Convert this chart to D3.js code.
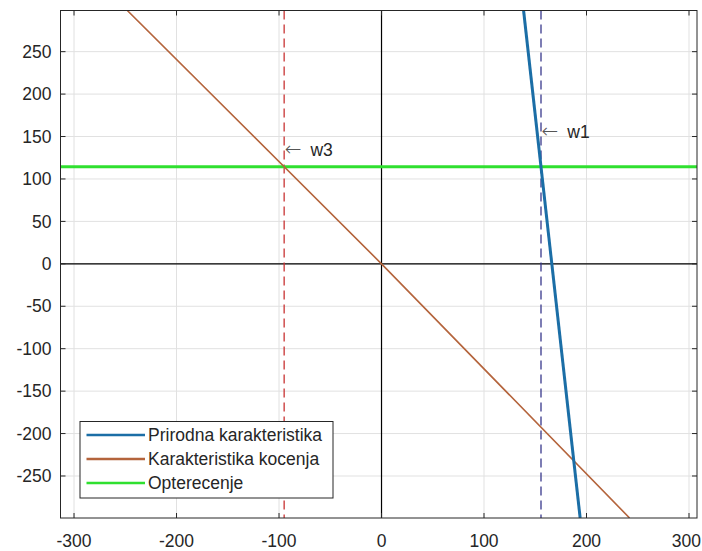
<!DOCTYPE html>
<html>
<head>
<meta charset="utf-8">
<script src="https://cdn.jsdelivr.net/npm/d3@7"></script>
<style>
  body { margin: 0; background: #fff; }
  text { font-family: "Liberation Sans", Arial, sans-serif; fill: #262626; }
</style>
</head>
<body>
<div id="chart"></div>
<script>
// tick values
const xTicks = [-300, -200, -100, 0, 100, 200, 300];
const yTicks = [-250, -200, -150, -100, -50, 0, 50, 100, 150, 200, 250];

// series
const prirodna = [[138.6, 298.5], [193.8, -299.5]];
const kocenja = [[-248, 298.5], [0, 0], [242, -299.5]];
const opterecenje = 114.5;
const w1 = 155.6;
const w3 = -95;

const legendNames = ["Prirodna karakteristika", "Karakteristika kocenja", "Opterecenje"];
const legendColors = ["#1b6ea6", "#b4643c", "#2fe02f"];

const width = 702, height = 551;
const plot = { left: 60.5, top: 10.5, right: 697, bottom: 518 };

const svg = d3.select("#chart").append("svg")
  .attr("width", width)
  .attr("height", height);

const x = d3.scaleLinear().domain([-313.2, 307.8]).range([plot.left, plot.right]);
const y = d3.scaleLinear().domain([-299.5, 298.5]).range([plot.bottom, plot.top]);

svg.append("defs").append("clipPath").attr("id", "clip")
  .append("rect")
  .attr("x", plot.left).attr("y", plot.top)
  .attr("width", plot.right - plot.left)
  .attr("height", plot.bottom - plot.top);

// grid
const grid = svg.append("g").attr("stroke", "#e1e1e1").attr("stroke-width", 1);
grid.selectAll(".gx").data(xTicks).join("line")
  .attr("x1", d => x(d)).attr("x2", d => x(d))
  .attr("y1", plot.top).attr("y2", plot.bottom);
grid.selectAll(".gy").data(yTicks).join("line")
  .attr("y1", d => y(d)).attr("y2", d => y(d))
  .attr("x1", plot.left).attr("x2", plot.right);

const g = svg.append("g").attr("clip-path", "url(#clip)");
const line = d3.line().x(d => x(d[0])).y(d => y(d[1]));

// black zero lines
g.append("line")
  .attr("x1", x(0)).attr("x2", x(0))
  .attr("y1", plot.top).attr("y2", plot.bottom)
  .attr("stroke", "#000").attr("stroke-width", 1.2);
g.append("line")
  .attr("y1", y(0)).attr("y2", y(0))
  .attr("x1", plot.left).attr("x2", plot.right)
  .attr("stroke", "#000").attr("stroke-width", 1.2);

// dashed speed markers
g.append("line")
  .attr("x1", x(w3)).attr("x2", x(w3))
  .attr("y1", plot.top).attr("y2", plot.bottom)
  .attr("stroke", "#c83232").attr("stroke-width", 1.3)
  .attr("stroke-dasharray", "9,5");
g.append("line")
  .attr("x1", x(w1)).attr("x2", x(w1))
  .attr("y1", plot.top).attr("y2", plot.bottom)
  .attr("stroke", "#38388c").attr("stroke-width", 1.3)
  .attr("stroke-dasharray", "9,5");

// load line
g.append("line")
  .attr("y1", y(opterecenje)).attr("y2", y(opterecenje))
  .attr("x1", plot.left).attr("x2", plot.right)
  .attr("stroke", legendColors[2]).attr("stroke-width", 3);

// characteristics
g.append("path").datum(kocenja)
  .attr("d", line).attr("fill", "none")
  .attr("stroke", legendColors[1]).attr("stroke-width", 1.6);
g.append("path").datum(prirodna)
  .attr("d", line).attr("fill", "none")
  .attr("stroke", legendColors[0]).attr("stroke-width", 3);

// annotations (\leftarrow w)
function note(xv, yv, label) {
  const t = svg.append("text")
    .attr("x", x(xv) + 0.5).attr("y", y(yv))
    .attr("dy", "0.35em").attr("font-size", 17.5);
  t.append("tspan").attr("font-family", "DejaVu Sans").attr("font-size", 20)
    .attr("font-weight", 300).attr("fill", "#555").text("\u2190");
  t.append("tspan").attr("dx", 9).text(label);
}
note(w3, 134, "w3");
note(w1, 156, "w1");

// box and ticks
const axisColor = "#262626";
svg.append("rect")
  .attr("x", plot.left).attr("y", plot.top)
  .attr("width", plot.right - plot.left)
  .attr("height", plot.bottom - plot.top)
  .attr("fill", "none").attr("stroke", axisColor).attr("stroke-width", 1);

const tl = 5;
const ticks = svg.append("g").attr("stroke", axisColor).attr("stroke-width", 1);
xTicks.forEach(d => {
  ticks.append("line").attr("x1", x(d)).attr("x2", x(d)).attr("y1", plot.bottom).attr("y2", plot.bottom - tl);
  ticks.append("line").attr("x1", x(d)).attr("x2", x(d)).attr("y1", plot.top).attr("y2", plot.top + tl);
});
yTicks.forEach(d => {
  ticks.append("line").attr("y1", y(d)).attr("y2", y(d)).attr("x1", plot.left).attr("x2", plot.left + tl);
  ticks.append("line").attr("y1", y(d)).attr("y2", y(d)).attr("x1", plot.right).attr("x2", plot.right - tl);
});

svg.append("g").selectAll("text").data(xTicks).join("text")
  .attr("x", d => x(d)).attr("y", 547)
  .attr("text-anchor", "middle").attr("font-size", 17.5)
  .text(d => d)
  .each(function () {
    // keep the last label inside the window
    const b = this.getBBox();
    if (b.x + b.width > width - 1) {
      d3.select(this).attr("text-anchor", "end").attr("x", width - 1);
    }
  });
svg.append("g").selectAll("text").data(yTicks).join("text")
  .attr("x", plot.left - 9).attr("y", d => y(d))
  .attr("dy", "0.35em")
  .attr("text-anchor", "end").attr("font-size", 17.5)
  .text(d => d);

// legend
const legend = svg.append("g");
legend.append("rect")
  .attr("x", 80).attr("y", 421.5)
  .attr("width", 253).attr("height", 76.5)
  .attr("fill", "#fff").attr("stroke", axisColor).attr("stroke-width", 1);
legendNames.forEach((name, i) => {
  const ly = 435 + i * 24;
  legend.append("line")
    .attr("x1", 86.5).attr("x2", 145).attr("y1", ly).attr("y2", ly)
    .attr("stroke", legendColors[i]).attr("stroke-width", 2.5);
  legend.append("text")
    .attr("x", 148).attr("y", ly).attr("dy", "0.35em")
    .attr("font-size", 17.5)
    .text(name);
});
</script>
</body>
</html>
